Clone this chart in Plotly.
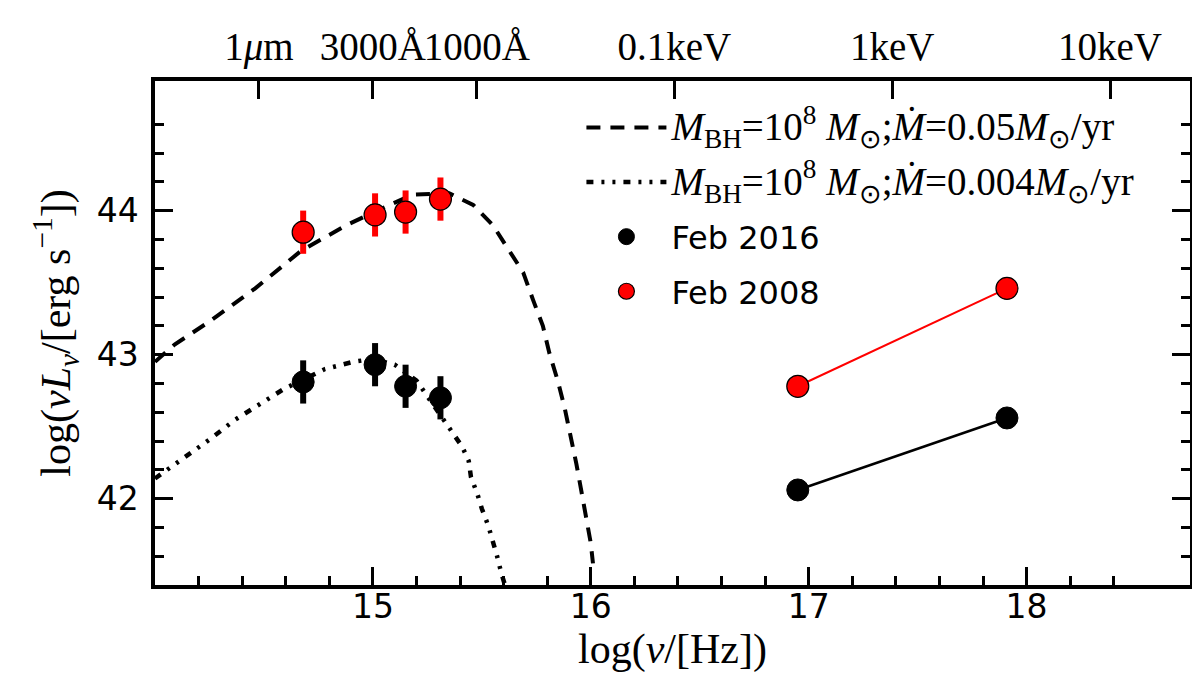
import plotly.graph_objects as go

# model curves
x_alto = [14.0, 14.09, 14.25, 14.46, 14.67, 14.88, 15.02, 15.18, 15.35, 15.46, 15.55,
          15.62, 15.69, 15.735, 15.78, 15.81, 15.85, 15.88, 15.91, 15.934, 15.957, 15.98,
          16.0, 16.01]
y_alto = [42.95, 43.07, 43.23, 43.46, 43.72, 43.90, 44.00, 44.11, 44.12, 44.04, 43.90,
          43.74, 43.57, 43.38, 43.20, 43.01, 42.81, 42.63, 42.43, 42.24, 42.05, 41.85,
          41.69, 41.55]

x_bajo = [14.0, 14.13, 14.25, 14.37, 14.50, 14.59, 14.78, 14.91, 15.0, 15.1, 15.2, 15.3,
          15.36, 15.41, 15.44, 15.45, 15.48, 15.50, 15.53, 15.55, 15.57, 15.59, 15.61]
y_bajo = [42.14, 42.28, 42.41, 42.55, 42.67, 42.76, 42.90, 42.95, 42.97, 42.93, 42.82, 42.60,
          42.46, 42.36, 42.26, 42.15, 42.03, 41.93, 41.81, 41.71, 41.60, 41.48, 41.38]

# optical/UV photometry
x_uv = [14.68, 15.01, 15.15, 15.31]
y_uv_2016 = [42.81, 42.93, 42.78, 42.70]
err_uv_2016 = [0.15, 0.15, 0.15, 0.15]
y_uv_2008 = [43.85, 43.97, 43.99, 44.08]
err_uv_2008 = [0.15, 0.15, 0.15, 0.15]

# X-ray
x_rx = [16.95, 17.91]
y_rx_2016 = [42.06, 42.56]
y_rx_2008 = [42.78, 43.46]

# axes
x_ticks = [15, 16, 17, 18]
y_ticks = [42, 43, 44]
x_minor = [14.2, 14.4, 14.6, 14.8, 15.2, 15.4, 15.6, 15.8, 16.2, 16.4, 16.6, 16.8,
           17.2, 17.4, 17.6, 17.8, 18.2, 18.4]
y_minor = [41.6, 41.8, 42.2, 42.4, 42.6, 42.8, 43.2, 43.4, 43.6, 43.8, 44.2, 44.4, 44.6]
top_vals = [14.477, 15.0, 15.477, 16.383, 17.383, 18.383]
top_text = ['1<i>μ</i>m', '3000Å', '1000Å', '0.1keV', '1keV', '10keV']

serif = 'Liberation Serif'
sans = 'DejaVu Sans'


def math(t):
    return '<span style="font-family:%s;font-size:39px">%s</span>' % (serif, t)


nombre_alto = math('<i>M</i><sub>BH</sub>=10<sup>8</sup> <i>M</i><sub>⊙</sub>;<i>Ṁ</i>=0.05<i>M</i><sub>⊙</sub>/yr')
nombre_bajo = math('<i>M</i><sub>BH</sub>=10<sup>8</sup> <i>M</i><sub>⊙</sub>;<i>Ṁ</i>=0.004<i>M</i><sub>⊙</sub>/yr')

fig = go.Figure()

fig.add_trace(go.Scatter(x=x_alto, y=y_alto, mode='lines', name=nombre_alto, legendgroup='a',
                         line=dict(color='black', width=4, dash='14px,10px')))
fig.add_trace(go.Scatter(x=x_bajo, y=y_bajo, mode='lines', name=nombre_bajo, legendgroup='b',
                         line=dict(color='black', width=4.5, dash='7px,8px,3px,8px,3px,8px')))

fig.add_trace(go.Scatter(x=x_uv, y=y_uv_2016, mode='markers', name='Feb 2016', legendgroup='c',
                         marker=dict(color='black', size=22, line=dict(color='black', width=1)),
                         error_y=dict(type='data', array=err_uv_2016, thickness=6, width=0, color='black')))
fig.add_trace(go.Scatter(x=x_uv, y=y_uv_2008, mode='markers', name='Feb 2008', legendgroup='d',
                         marker=dict(color='red', size=22, line=dict(color='black', width=1.2)),
                         error_y=dict(type='data', array=err_uv_2008, thickness=6, width=0, color='red')))

fig.add_trace(go.Scatter(x=x_rx, y=y_rx_2016, mode='lines+markers', showlegend=False,
                         line=dict(color='black', width=2.5),
                         marker=dict(color='black', size=22, line=dict(color='black', width=1))))
fig.add_trace(go.Scatter(x=x_rx, y=y_rx_2008, mode='lines+markers', showlegend=False,
                         line=dict(color='red', width=2),
                         marker=dict(color='red', size=22, line=dict(color='black', width=1.2))))

# eje superior (longitudes de onda / energias)
fig.add_trace(go.Scatter(x=[None], y=[None], xaxis='x2', showlegend=False, hoverinfo='skip'))

eje = dict(showgrid=False, zeroline=False, showline=True, linecolor='black', linewidth=3.5,
           ticks='inside', ticklen=18, tickwidth=3, tickcolor='black', automargin=False,
           tickfont=dict(family=sans, size=33, color='black'))

fig.update_layout(
    width=1200, height=690,
    paper_bgcolor='white', plot_bgcolor='white',
    margin=dict(l=147, r=18, t=73, b=113),
    showlegend=True,
    legend=dict(x=0.412, y=0.962, xanchor='left', yanchor='top', bgcolor='rgba(0,0,0,0)',
                font=dict(family=sans, size=32, color='black'), itemwidth=80,
                tracegroupgap=10),
    xaxis=dict(range=[14, 18.75], tickmode='array', tickvals=x_ticks, mirror=True,
               ticklabelstandoff=-10,
               minor=dict(tickmode='array', tickvals=x_minor, ticks='inside', ticklen=9,
                          tickwidth=3, tickcolor='black'),
               title=dict(text='log(<i>ν</i>/[Hz])', font=dict(family=serif, size=42, color='black'),
                          standoff=8),
               **eje),
    yaxis=dict(range=[41.4, 44.9], tickmode='array', tickvals=y_ticks, mirror='ticks',
               ticklabelstandoff=6,
               minor=dict(tickmode='array', tickvals=y_minor, ticks='inside', ticklen=9,
                          tickwidth=3, tickcolor='black'),
               title=dict(text='log(<i>νL</i><sub><i>ν</i></sub>/[erg s<sup>−1</sup>])',
                          font=dict(family=serif, size=42, color='black'), standoff=14),
               **eje),
    xaxis2=dict(overlaying='x', side='top', range=[14, 18.75], tickmode='array',
                tickvals=top_vals, ticktext=top_text, showgrid=False, zeroline=False,
                showline=False, ticks='inside', ticklen=18, tickwidth=3, tickcolor='black',
                tickangle=0, automargin=False, ticklabelstandoff=12,
                tickfont=dict(family=serif, size=39, color='black')),
)

fig.write_html('out.html')
